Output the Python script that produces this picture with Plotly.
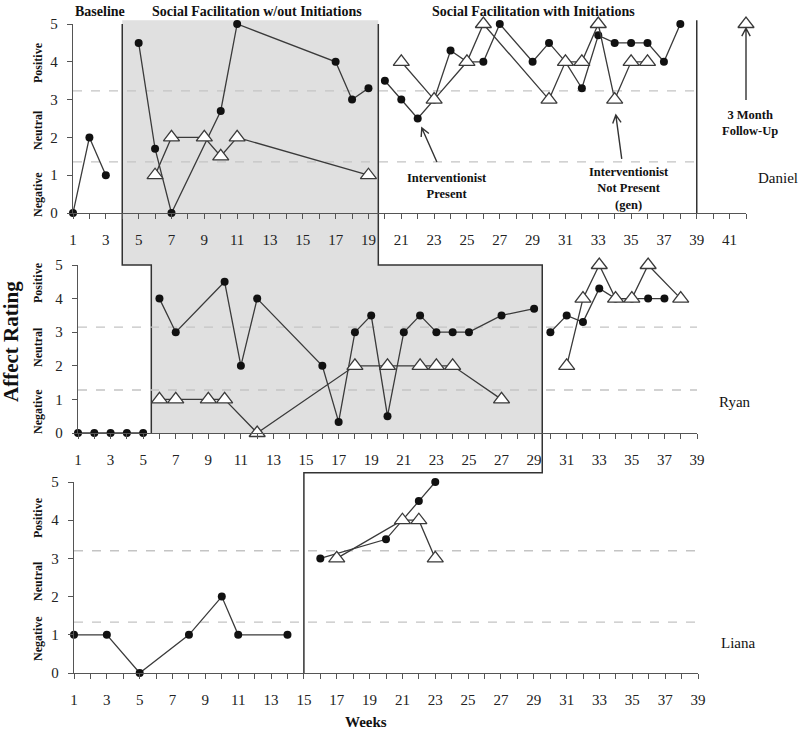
import math
import plotly.graph_objects as go

# ---------------- data ----------------
# Daniel (top panel)
dan_base_wk = [1, 2, 3]
dan_base_val = [0, 2, 1]
dan_p2_circ_wk = [5, 6, 7, 10, 11, 17, 18, 19]
dan_p2_circ_val = [4.5, 1.7, 0, 2.7, 5, 4, 3, 3.3]
dan_p2_tri_wk = [6, 7, 9, 10, 11, 19]
dan_p2_tri_val = [1, 2, 2, 1.5, 2, 1]
dan_p3_circ_wk = [20, 21, 22, 23, 24, 25, 26, 27, 29, 30, 31, 32, 33, 34, 35, 36, 37, 38]
dan_p3_circ_val = [3.5, 3, 2.5, 3, 4.3, 4, 4, 5, 4, 4.5, 4, 3.3, 4.7, 4.5, 4.5, 4.5, 4, 5]
dan_p3_tri_wk = [21, 23, 25, 26, 30, 31, 32, 33, 34, 35, 36]
dan_p3_tri_val = [4, 3, 4, 5, 3, 4, 4, 5, 3, 4, 4]
dan_follow_wk = [42]
dan_follow_val = [5]

# Ryan (middle panel)
ryan_base_wk = [1, 2, 3, 4, 5]
ryan_base_val = [0, 0, 0, 0, 0]
ryan_p2_circ_wk = [6, 7, 10, 11, 12, 16, 17, 18, 19, 20, 21, 22, 23, 24, 25, 27, 29]
ryan_p2_circ_val = [4, 3, 4.5, 2, 4, 2, 0.33, 3, 3.5, 0.5, 3, 3.5, 3, 3, 3, 3.5, 3.7]
ryan_p2_tri_wk = [6, 7, 9, 10, 12, 18, 20, 22, 23, 24, 27]
ryan_p2_tri_val = [1, 1, 1, 1, 0, 2, 2, 2, 2, 2, 1]
ryan_p3_circ_wk = [30, 31, 32, 33, 34, 35, 36, 37]
ryan_p3_circ_val = [3, 3.5, 3.3, 4.3, 4, 4, 4, 4]
ryan_p3_tri_wk = [31, 32, 33, 34, 35, 36, 38]
ryan_p3_tri_val = [2, 4, 5, 4, 4, 5, 4]

# Liana (bottom panel)
liana_base_wk = [1, 3, 5, 8, 10, 11, 14]
liana_base_val = [1, 1, 0, 1, 2, 1, 1]
liana_p3_circ_wk = [16, 20, 22, 23]
liana_p3_circ_val = [3, 3.5, 4.5, 5]
liana_p3_tri_wk = [17, 21, 22, 23]
liana_p3_tri_val = [3, 4, 4, 3]

# category divider levels (dashed lines) per panel
divider_top = [1.35, 3.23]
divider_mid = [1.28, 3.15]
divider_bot = [1.33, 3.2]

# phase change weeks
phase_dan = [4, 19.6]
phase_ryan = [5.5, 29.5]
phase_liana = [15]
followup_line = 39

y_ticks = [0, 1, 2, 3, 4, 5]
panel_names = ["Daniel", "Ryan", "Liana"]

# callout arrows in Daniel's data space: (head week, head rating, tail week, tail rating)
callout_arrows = [(22.25, 2.25, 23.17, 1.35), (34.07, 2.59, 34.43, 1.43), (42, 4.89, 42, 2.99)]

# ---------------- layout geometry ----------------
W, H = 800, 731
FONT = "Liberation Serif"
LINE_C = "#3a3a3a"
DASH_C = "#c4c4c4"
GRAY = "#e0e0e0"

xdom = {"top": [73 / W, 746 / W], "mid": [78 / W, 697 / W], "bot": [74 / W, 698 / W]}
xr = {"top": [1, 42], "mid": [1, 39], "bot": [1, 39]}
ydom = {"top": [1 - 213 / H, 1 - 24 / H], "mid": [1 - 433 / H, 1 - 265 / H], "bot": [1 - 673 / H, 1 - 482 / H]}
yr = [0, 5]
axis_id = {"top": ("x", "y"), "mid": ("x2", "y2"), "bot": ("x3", "y3")}


def PX(p, v):
    d0, d1 = xdom[p]
    r0, r1 = xr[p]
    return d0 + (v - r0) / (r1 - r0) * (d1 - d0)


def PY(p, v):
    d0, d1 = ydom[p]
    return d0 + (v - yr[0]) / (yr[1] - yr[0]) * (d1 - d0)


fig = go.Figure()


def add_series(p, wk, val, kind):
    xa, ya = axis_id[p]
    if kind == "circ":
        marker = dict(symbol="circle", size=8, color="#111111")
    else:
        marker = dict(symbol="triangle-up", size=14, color="white",
                      line=dict(color=LINE_C, width=1.3))
    fig.add_trace(go.Scatter(
        x=wk, y=val, xaxis=xa, yaxis=ya, mode="lines+markers",
        line=dict(color=LINE_C, width=1.3), marker=marker,
        cliponaxis=False, showlegend=False, hoverinfo="x+y"))


add_series("top", dan_base_wk, dan_base_val, "circ")
add_series("top", dan_p2_circ_wk, dan_p2_circ_val, "circ")
add_series("top", dan_p2_tri_wk, dan_p2_tri_val, "tri")
add_series("top", dan_p3_circ_wk, dan_p3_circ_val, "circ")
add_series("top", dan_p3_tri_wk, dan_p3_tri_val, "tri")
add_series("top", dan_follow_wk, dan_follow_val, "tri")

add_series("mid", ryan_base_wk, ryan_base_val, "circ")
add_series("mid", ryan_p2_circ_wk, ryan_p2_circ_val, "circ")
add_series("mid", ryan_p2_tri_wk, ryan_p2_tri_val, "tri")
add_series("mid", ryan_p3_circ_wk, ryan_p3_circ_val, "circ")
add_series("mid", ryan_p3_tri_wk, ryan_p3_tri_val, "tri")

add_series("bot", liana_base_wk, liana_base_val, "circ")
add_series("bot", liana_p3_circ_wk, liana_p3_circ_val, "circ")
add_series("bot", liana_p3_tri_wk, liana_p3_tri_val, "tri")

# ---------------- axes ----------------
tickfont = dict(family=FONT, size=15, color="#222222")
layout_axes = {}
for i, p in enumerate(["top", "mid", "bot"]):
    sfx = "" if i == 0 else str(i + 1)
    layout_axes["xaxis" + sfx] = dict(
        domain=xdom[p], range=xr[p], anchor="y" + sfx, automargin=False,
        tick0=1, dtick=2, ticks="outside", ticklen=5, tickcolor="#555555",
        minor=dict(dtick=1, tick0=1, ticks="outside", ticklen=5, tickcolor="#555555"),
        showline=True, linecolor="#555555", linewidth=1.3,
        showgrid=False, zeroline=False, tickfont=tickfont, ticklabelstandoff=8,
        fixedrange=True)
    layout_axes["yaxis" + sfx] = dict(
        domain=ydom[p], range=yr, anchor="x" + sfx, automargin=False,
        tickvals=y_ticks, ticks="outside", ticklen=5, tickcolor="#555555",
        showline=True, linecolor="#555555", linewidth=1.3,
        showgrid=False, zeroline=False, tickfont=tickfont, ticklabelstandoff=6,
        fixedrange=True)

# ---------------- shapes ----------------
shapes = []
gx0, gx1 = phase_dan
mx0, mx1 = phase_ryan
ytop = PY("top", 5.1)
ymid5 = PY("mid", 5)
ymid0 = PY("mid", 0)
gray_path = (f"M{PX('top', gx0)},{ytop} L{PX('top', gx1)},{ytop} L{PX('top', gx1)},{ymid5} "
             f"L{PX('mid', mx1)},{ymid5} L{PX('mid', mx1)},{ymid0} L{PX('mid', mx0)},{ymid0} "
             f"L{PX('mid', mx0)},{ymid5} L{PX('top', gx0)},{ymid5} Z")
shapes.append(dict(type="path", path=gray_path, xref="paper", yref="paper",
                   fillcolor=GRAY, line=dict(width=0), layer="below"))

for p, lv in (("top", divider_top), ("mid", divider_mid), ("bot", divider_bot)):
    xa, ya = axis_id[p]
    for v in lv:
        shapes.append(dict(type="line", xref=xa, yref=ya, x0=1, x1=39, y0=v, y1=v,
                           line=dict(color=DASH_C, width=1.3, dash="dash"), layer="below"))

yt5 = PY("top", 5)
path1 = (f"M{PX('top', gx0)},{yt5} L{PX('top', gx0)},{ymid5} "
         f"L{PX('mid', mx0)},{ymid5} L{PX('mid', mx0)},{ymid0}")
ybstep = PY("bot", 5.24)
path2 = (f"M{PX('top', gx1)},{yt5} L{PX('top', gx1)},{ymid5} L{PX('mid', mx1)},{ymid5} "
         f"L{PX('mid', mx1)},{ybstep} L{PX('bot', phase_liana[0])},{ybstep} "
         f"L{PX('bot', phase_liana[0])},{PY('bot', 0)}")
path3 = f"M{PX('top', followup_line)},{ytop} L{PX('top', followup_line)},{PY('top', 0)}"
for pth in (path1, path2, path3):
    shapes.append(dict(type="path", path=pth, xref="paper", yref="paper",
                       line=dict(color="#333333", width=1.5), layer="below"))


def pp(a, b):
    return f"{a / W},{1 - b / H}"


# callout arrows: shaft + open chevron head, computed in pixel space
for (hx, hy, tx, ty) in callout_arrows:
    hpx, hpy = PX("top", hx) * W, (1 - PY("top", hy)) * H
    tpx, tpy = PX("top", tx) * W, (1 - PY("top", ty)) * H
    dx, dy = hpx - tpx, hpy - tpy
    n = math.hypot(dx, dy)
    ux, uy = dx / n, dy / n
    L, ang = 9, math.radians(28)
    wings = []
    for s in (1, -1):
        ca, sa = math.cos(s * ang), math.sin(s * ang)
        rx, ry = ux * ca - uy * sa, ux * sa + uy * ca
        wings.append((hpx - L * rx, hpy - L * ry))
    pth = (f"M{pp(tpx, tpy)} L{pp(hpx, hpy)} "
           f"M{pp(*wings[0])} L{pp(hpx, hpy)} L{pp(*wings[1])}")
    shapes.append(dict(type="path", path=pth, xref="paper", yref="paper",
                       line=dict(color="#333333", width=1.4)))

# ---------------- annotations ----------------
ann = []


def ptext(px, py, text, size=13, bold=True, angle=0, color="#111111", xanchor="center"):
    ann.append(dict(x=px / W, y=1 - py / H, xref="paper", yref="paper",
                    text=(f"<b>{text}</b>" if bold else text), showarrow=False,
                    textangle=angle, xanchor=xanchor, yanchor="middle",
                    font=dict(family=FONT, size=size, color=color)))


ptext(100, 11, "Baseline", size=14)
ptext(257, 11, "Social Facilitation w/out Initiations", size=14)
ptext(533, 11, "Social Facilitation with Initiations", size=14)

for py, t in ((195, "Negative"), (130, "Neutral"), (63, "Positive"),
              (412, "Negative"), (347, "Neutral"), (283, "Positive"),
              (639, "Negative"), (581, "Neutral"), (518, "Positive")):
    ptext(38, py, t, size=12, angle=-90)

ptext(11, 342, "Affect Rating", size=21, angle=-90)
ptext(366, 722, "Weeks", size=15)

ptext(778, 178, panel_names[0], size=15, bold=False)
ptext(735, 402, panel_names[1], size=15, bold=False)
ptext(738, 643, panel_names[2], size=15, bold=False)

ptext(447, 186, "Interventionist<br>Present", size=12.5)
ptext(629, 188, "Interventionist<br>Not Present<br>(gen)", size=12.5)
ptext(750, 123, "3 Month<br>Follow-Up", size=12.5)

fig.update_layout(
    width=W, height=H, margin=dict(l=0, r=0, t=0, b=0, autoexpand=False),
    paper_bgcolor="white", plot_bgcolor="rgba(0,0,0,0)",
    shapes=shapes, annotations=ann, showlegend=False,
    **layout_axes)

fig.write_html("out.html", config={"displayModeBar": False},
               post_script="document.body.style.margin='0';document.body.style.overflow='hidden';")
